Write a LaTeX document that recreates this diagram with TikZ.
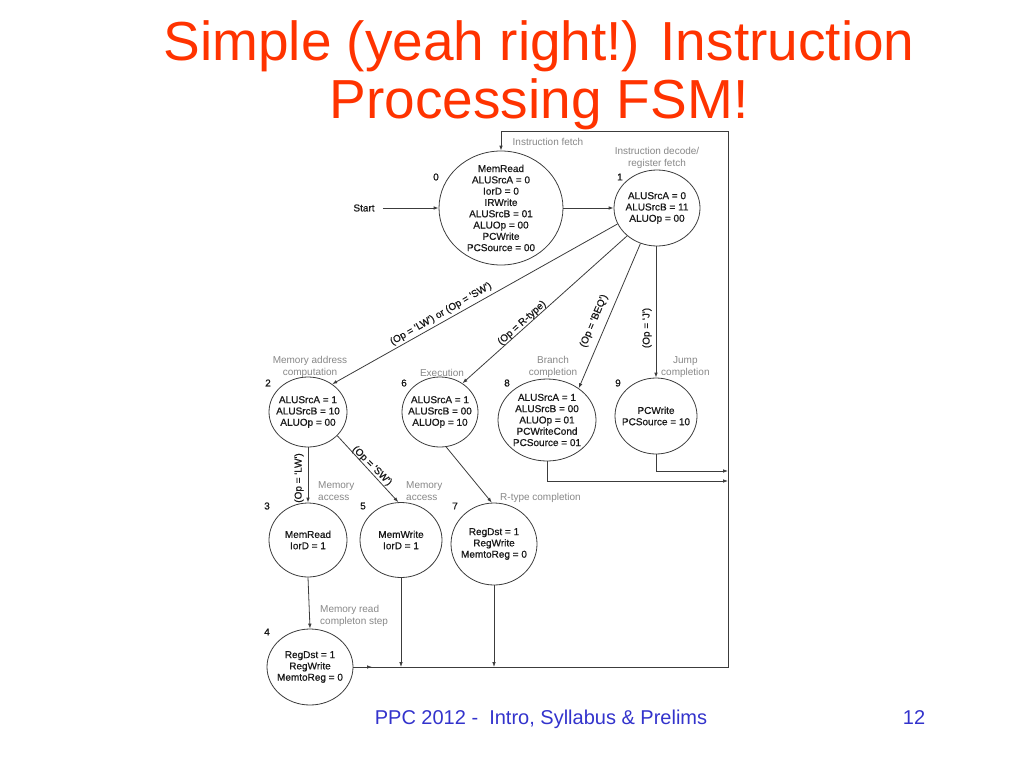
\documentclass[tikz,border=0pt]{standalone}
\usepackage{fontspec}
\setmainfont{Liberation Sans}
\newfontfamily\dgfont[FakeBold=0.7]{Liberation Sans}
\usetikzlibrary{shapes.geometric,arrows.meta}
\definecolor{titlered}{RGB}{255,51,0}
\definecolor{footblue}{RGB}{51,51,204}
\definecolor{linegray}{RGB}{60,60,60}
\definecolor{labgray}{RGB}{135,135,135}
\begin{document}
\begin{tikzpicture}[x=1pt,y=-1pt,
  state/.style={draw=linegray, line width=0.8pt, ellipse, inner sep=0pt},
  stext/.style={align=center, inner sep=0pt, text=black!90, font=\dgfont\fontsize{10}{11.3}\selectfont},
  num/.style={inner sep=0pt, text=black!90, font=\dgfont\fontsize{10}{11}\selectfont},
  glab/.style={inner sep=0pt, text=labgray, font=\fontsize{10}{11.3}\selectfont},
  cond/.style={inner sep=0pt, text=black!90, font=\dgfont\fontsize{10}{11}\selectfont},
  line/.style={draw=linegray, line width=0.8pt},
  arr/.style={line, -{Latex[length=5pt,width=3.6pt]}},
  ttl/.style={inner sep=0pt, text=titlered, font=\fontsize{55}{60}\selectfont, anchor=base},
  foot/.style={inner sep=0pt, text=footblue, font=\fontsize{20}{24}\selectfont, anchor=base}
]
\useasboundingbox (0,0) rectangle (1024,768);

% title and footer
\node[ttl] (title1) at (539,60) {Simple (yeah right!) Instruction};
\node[ttl] (title2) at (539,118) {Processing FSM!};
\node[foot] (footer) at (541,724) {PPC 2012 -\ \ Intro, Syllabus \& Prelims};
\node[foot] (page) at (914,724) {12};

% states
\node[state, minimum width=124pt, minimum height=114pt] (s0) at (501,208) {};
\node[stext] (t0) at (s0) {MemRead\\ALUSrcA = 0\\IorD = 0\\IRWrite\\ALUSrcB = 01\\ALUOp = 00\\PCWrite\\PCSource = 00};
\node[state, minimum width=86pt, minimum height=76pt] (s1) at (657,208) {};
\node[stext] (t1) at (s1) {ALUSrcA = 0\\ALUSrcB = 11\\ALUOp = 00};
\node[state, minimum width=78pt, minimum height=70pt] (s2) at (308,412) {};
\node[stext] (t2) at (s2) {ALUSrcA = 1\\ALUSrcB = 10\\ALUOp = 00};
\node[state, minimum width=76pt, minimum height=70pt] (s6) at (440,412) {};
\node[stext] (t6) at (s6) {ALUSrcA = 1\\ALUSrcB = 00\\ALUOp = 10};
\node[state, minimum width=98pt, minimum height=82pt] (s8) at (547,420) {};
\node[stext] (t8) at (s8) {ALUSrcA = 1\\ALUSrcB = 00\\ALUOp = 01\\PCWriteCond\\PCSource = 01};
\node[state, minimum width=82pt, minimum height=76pt] (s9) at (656,416) {};
\node[stext] (t9) at (s9) {PCWrite\\PCSource = 10};
\node[state, minimum width=78pt, minimum height=74pt] (s3) at (308,540) {};
\node[stext] (t3) at (s3) {MemRead\\IorD = 1};
\node[state, minimum width=82pt, minimum height=75pt] (s5) at (401,540) {};
\node[stext] (t5) at (s5) {MemWrite\\IorD = 1};
\node[state, minimum width=86pt, minimum height=82pt] (s7) at (494,544) {};
\node[stext] (t7) at (s7) {RegDst = 1\\RegWrite\\MemtoReg = 0};
\node[state, minimum width=86pt, minimum height=76pt] (s4) at (310,667) {};
\node[stext] (t4) at (s4) {RegDst = 1\\RegWrite\\MemtoReg = 0};

% state numbers
\node[num] (n0) at (436,177) {0};
\node[num] (n1) at (620,177) {1};
\node[num] (n2) at (268,383) {2};
\node[num] (n6) at (404,383) {6};
\node[num] (n8) at (507,383) {8};
\node[num] (n9) at (618,383) {9};
\node[num] (n3) at (267,506) {3};
\node[num] (n5) at (363,506) {5};
\node[num] (n7) at (455,506) {7};
\node[num] (n4) at (267,632) {4};

% gray phase labels
\node[glab] (g0) at (548,142) {Instruction fetch};
\node[glab, align=center] (g1) at (657,158) {Instruction decode/\\register fetch};
\node[glab, align=center] (g2) at (310,367) {Memory address\\computation};
\node[glab] (g6) at (442,373) {Execution};
\node[glab, align=center] (g8) at (553,367) {Branch\\completion};
\node[glab, align=center, anchor=west] (g9) at (661,367) {Jump\\completion};
\node[glab, align=left, anchor=west] (g3) at (318,491) {Memory\\access};
\node[glab, align=left, anchor=west] (g5) at (406,491) {Memory\\access};
\node[glab, anchor=west] (g7) at (500,498) {R-type completion};
\node[glab, align=left, anchor=west] (g4) at (320,616) {Memory read\\completon step};

% start
\node[num] (start) at (364,208) {Start};
\draw[arr] (start.east) ++(8,0) coordinate (st) (st) -- (s0.west);

% transitions
\draw[arr] (s0.east) -- (s1.west);
\draw[arr] (s1.202) -- (s2.49);
\draw[arr] (s1.223) -- (s6.52);
\draw[arr] (s1.245) -- (s8.45);
\draw[arr] (s1.south -| s9.north) -- (s9.north);
\draw[arr] (s2.south) -- (s3.north);
\draw[arr] (s2.321) -- (s5.94);
\draw[arr] (s6.280) -- (s7.93);
\draw[arr] (s3.south) -- (s4.north);

% condition labels
\node[cond, rotate=30] (c2) at (441,314) {(Op = 'LW') or (Op = 'SW')};
\node[cond, rotate=42] (c6) at (522,323) {(Op = R-type)};
\node[cond, rotate=67] (c8) at (594,321) {(Op = 'BEQ')};
\node[cond, rotate=90] (c9) at (647,328) {(Op = 'J')};
\node[cond, rotate=90] (c3) at (299,478) {(Op = 'LW')};
\node[cond, rotate=-45] (c5) at (372,466) {(Op = 'SW')};

% return paths
\coordinate (b1) at (728,667);
\coordinate (b2) at (728,131);
\coordinate (b3) at (501,131);
\coordinate (a4) at (372,667);
\coordinate (j5) at (401,667);
\coordinate (j7) at (494,667);
\coordinate (j9) at (728,471);
\coordinate (j8) at (728,481);
\draw[line] (s4.east) -- (b1) -- (b2) -- (b3);
\draw[arr] (b3) -- (s0.north);
\draw[arr] (s4.east) -- (a4);
\draw[arr] (s5.south) -- (j5);
\draw[arr] (s7.south) -- (j7);
\draw[arr] (s9.south) |- (j9);
\draw[arr] (s8.south) |- (j8);
\end{tikzpicture}
\end{document}
